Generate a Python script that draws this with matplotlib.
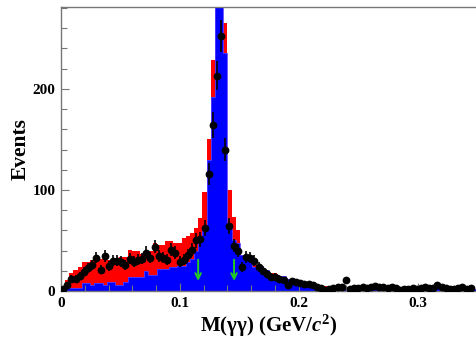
import numpy as np
import matplotlib
matplotlib.use("Agg")
import matplotlib.pyplot as plt
from matplotlib.ticker import MultipleLocator

# ---------------- data ----------------
x_min, x_max = 0.0, 0.35
n_bins = 100

data_counts = [2, 6, 12, 12, 15, 19, 23, 26, 33, 21,
               35, 25, 30, 30, 29, 26, 32, 29, 31, 32,
               38, 33, 44, 35, 33, 31, 41, 38, 29, 31,
               36, 41, 50, 51, 62, 116, 164, 213, 252, 140,
               64, 45, 40, 24, 34, 33, 30, 24, 20, 17,
               14, 14, 12, 11, 6, 10, 9, 8, 7, 7,
               6, 4, 3, 1, 2, 3, 4, 4, 11, 2,
               3, 3, 4, 3, 4, 5, 4, 4, 3, 4,
               3, 1, 2, 2, 3, 2, 3, 4, 3, 3,
               6, 4, 3, 2, 2, 3, 4, 2, 3, 0]

red_counts = [4, 11, 18, 21, 24, 29, 29, 31, 31, 32,
              32, 31, 31, 33, 34, 34, 41, 40, 40, 37,
              40, 40, 47, 46, 46, 49, 49, 47, 47, 52,
              54, 57, 62, 72, 98, 150, 229, 270, 275, 265,
              100, 73, 60, 36, 36, 36, 26, 26, 21, 21,
              18, 18, 14, 14, 11, 10, 9, 9, 8, 7,
              7, 6, 5, 5, 4, 4, 4, 4, 4, 4,
              4, 3, 4, 4, 3, 4, 4, 3, 4, 3,
              3, 3, 3, 3, 3, 3, 3, 4, 3, 3,
              3, 3, 3, 3, 2, 3, 3, 2, 3, 2]

blue_counts = [3, 3, 3, 3, 3, 8, 8, 6, 8, 8,
               6, 9, 9, 6, 6, 9, 14, 14, 14, 14,
               20, 16, 16, 22, 22, 22, 24, 24, 25, 25,
               29, 32, 40, 54, 60, 130, 192, 400, 400, 235,
               64, 50, 47, 36, 35, 35, 24, 21, 21, 21,
               17, 17, 9, 15, 12, 8, 7, 6, 6, 5,
               5, 4, 4, 4, 3, 3, 4, 4, 3, 4,
               3, 3, 4, 3, 3, 4, 3, 3, 4, 6,
               3, 3, 3, 2, 3, 3, 3, 4, 3, 3,
               3, 2, 3, 3, 2, 3, 3, 2, 3, 2]

arrow_x = [0.1154, 0.1456]
arrow_y_top, arrow_y_bot = 31, 10

x_ticks = [0.0, 0.1, 0.2, 0.3]
x_tick_labels = ["0", "0.1", "0.2", "0.3"]
y_ticks = [0, 100, 200]

# ---------------- style ----------------
plt.rcParams['font.family'] = ['Liberation Serif', 'DejaVu Serif']
plt.rcParams['font.weight'] = 'bold'
plt.rcParams['mathtext.fontset'] = 'custom'
plt.rcParams['mathtext.rm'] = 'Liberation Serif:bold'
plt.rcParams['mathtext.it'] = 'Liberation Serif:italic'
plt.rcParams['mathtext.bf'] = 'Liberation Serif:bold'

fig = plt.figure(figsize=(4.77, 3.43), dpi=100)
ax = fig.add_axes([61/477, 1-291/343, 1-61/477, (291-7)/343])

edges = np.linspace(x_min, x_max, n_bins + 1)
centers = 0.5 * (edges[:-1] + edges[1:])
half_w = 0.5 * (edges[1] - edges[0])

ax.stairs(red_counts, edges, fill=True, color='#ff0000', lw=0)
ax.stairs(blue_counts, edges, fill=True, color='#0000ff', lw=0)
ax.stairs(blue_counts, edges, fill=False, color='#5a3cff', lw=0.6)

d = np.array(data_counts, dtype=float)
mask = d > 0
ax.errorbar(centers[mask], d[mask], yerr=np.sqrt(d[mask]), xerr=half_w,
            fmt='o', color='black', ms=4.6, lw=1.2, capsize=0, zorder=5)

for xa in arrow_x:
    ax.annotate('', xy=(xa, arrow_y_bot), xytext=(xa, arrow_y_top),
                arrowprops=dict(arrowstyle='->', color='#22cc22', lw=1.4,
                                mutation_scale=10, shrinkA=0, shrinkB=0),
                zorder=6)

ax.set_xlim(x_min, x_max)
ax.set_ylim(0, 281)
ax.set_xticks(x_ticks)
ax.set_xticklabels(x_tick_labels)
ax.set_yticks(y_ticks)
ax.xaxis.set_minor_locator(MultipleLocator(0.02))
ax.yaxis.set_minor_locator(MultipleLocator(20))
ax.tick_params(axis='both', which='major', direction='in', length=6, width=0.8,
               color='#777777', labelsize=11, pad=4)
ax.tick_params(axis='both', which='minor', direction='in', length=4, width=0.8,
               color='#777777')
ax.tick_params(axis='x', which='both', top=False)
ax.tick_params(axis='y', which='both', right=False)
for lab in ax.get_xticklabels() + ax.get_yticklabels():
    lab.set_fontweight('bold')

for s in ['left', 'top', 'bottom']:
    ax.spines[s].set_color('#777777')
    ax.spines[s].set_linewidth(1.0)
ax.spines['right'].set_visible(False)

ax.set_ylabel('Events', fontsize=15.5, fontweight='bold', labelpad=1.5)
ax.set_xlabel(r'M(γγ) (GeV/$\mathit{c}^{2}$)', fontsize=15, fontweight='bold', labelpad=2)

fig.savefig('out.png', dpi=100)
